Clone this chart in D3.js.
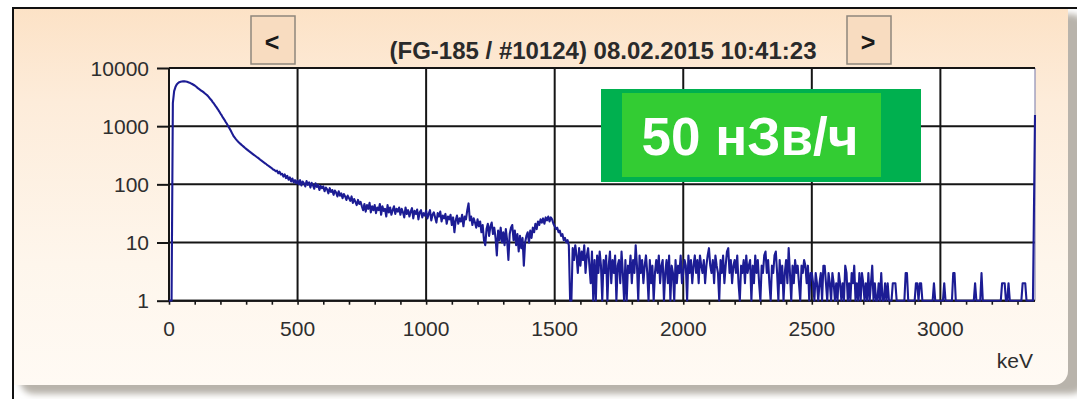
<!DOCTYPE html>
<html>
<head>
<meta charset="utf-8">
<script src="https://cdn.jsdelivr.net/npm/d3@7"></script>
<style>
  html, body { margin: 0; padding: 0; background: #fff; overflow: hidden; }
  svg { display: block; }
</style>
</head>
<body>
<svg id="chart" width="1077" height="399"></svg>
<script>
// Gamma spectrum: counts per 5 keV bin, starting at 0 keV (one row = 100 keV)
const binWidthKeV = 5;
const counts = [
  0, 0, 0, 2500, 4000, 4700, 5200, 5500, 5700, 5800, 5850, 5900, 5900, 5850, 5800, 5700, 5600, 5450, 5300, 5150,
  5000, 4800, 4600, 4400, 4250, 4100, 3950, 3800, 3650, 3500, 3350, 3150, 2950, 2800, 2600, 2430, 2250, 2100, 1950, 1800,
  1650, 1530, 1400, 1300, 1190, 1100, 1010, 920, 840, 760, 690, 640, 600, 565, 535, 510, 487, 465, 445, 425,
  408, 392, 376, 362, 348, 335, 322, 310, 298, 287, 276, 265, 255, 245, 236, 228, 219, 211, 203, 196,
  189, 180, 176, 168, 172, 155, 165, 148, 152, 136, 148, 128, 140, 120, 132, 112, 126, 108, 118, 104,
  116, 100, 118, 96, 112, 104, 92, 114, 98, 108, 88, 106, 96, 84, 104, 90, 98, 80, 94, 86,
  92, 76, 88, 82, 70, 86, 74, 80, 66, 78, 72, 62, 76, 64, 70, 58, 68, 62, 54, 64,
  58, 52, 62, 48, 56, 50, 44, 54, 46, 50, 42, 36, 46, 34, 44, 38, 48, 33, 42, 36,
  44, 32, 40, 36, 46, 30, 42, 35, 38, 28, 44, 33, 40, 30, 36, 42, 31, 38, 34, 40,
  30, 38, 33, 27, 40, 31, 36, 28, 34, 39, 26, 35, 31, 37, 25, 33, 36, 27, 32, 29,
  35, 26, 31, 36, 24, 30, 33, 27, 22, 32, 28, 34, 23, 29, 26, 31, 21, 28, 25, 30,
  20, 27, 15, 24, 29, 21, 26, 23, 30, 19, 28, 25, 36, 47, 24, 28, 20, 26, 22, 18,
  25, 19, 23, 15, 20, 11, 9, 17, 21, 13, 19, 22, 14, 18, 12, 6, 16, 11, 18, 10,
  15, 9, 17, 11, 5, 14, 18, 20, 11, 16, 9, 14, 7, 13, 8, 12, 4, 10, 13, 15,
  10, 16, 12, 18, 15, 21, 17, 23, 20, 25, 22, 26, 21, 27, 24, 28, 23, 27, 25, 21,
  19, 17, 18, 15, 16, 13, 14, 11, 12, 10, 11, 9, 1, 0, 8, 5, 9, 6, 3, 8,
  4, 7, 5, 9, 3, 6, 8, 4, 2, 7, 0, 5, 0, 6, 3, 7, 4, 0, 5, 3,
  6, 0, 4, 7, 2, 5, 3, 6, 0, 4, 5, 2, 7, 3, 0, 5, 0, 4, 3, 6,
  2, 5, 3, 9, 4, 0, 6, 3, 5, 2, 4, 6, 3, 0, 5, 2, 4, 0, 3, 5,
  3, 6, 2, 4, 5, 0, 3, 5, 2, 6, 0, 4, 3, 0, 5, 2, 4, 3, 6, 2,
  3, 5, 4, 0, 6, 3, 5, 2, 4, 6, 3, 5, 2, 6, 4, 3, 5, 2, 4, 6,
  8, 4, 3, 5, 2, 6, 4, 3, 0, 5, 3, 6, 2, 4, 7, 8, 3, 5, 2, 4,
  5, 3, 6, 2, 0, 4, 3, 5, 2, 6, 3, 4, 5, 0, 4, 2, 6, 3, 5, 2,
  0, 4, 3, 6, 7, 3, 5, 2, 0, 4, 3, 6, 7, 3, 0, 5, 2, 4, 0, 3,
  5, 2, 8, 3, 0, 4, 2, 5, 3, 4, 2, 0, 4, 3, 5, 4, 2, 4, 0, 3,
  3, 2, 0, 3, 2, 0, 2, 3, 0, 4, 4, 2, 0, 3, 2, 0, 3, 2, 0, 2,
  0, 3, 2, 0, 2, 0, 4, 3, 0, 2, 0, 3, 2, 4, 0, 2, 0, 3, 0, 3,
  2, 0, 2, 0, 3, 0, 2, 4, 0, 2, 0, 0, 2, 0, 3, 0, 0, 2, 0, 2,
  0, 0, 0, 2, 2, 2, 0, 0, 0, 0, 0, 0, 0, 3, 3, 0, 0, 0, 0, 0,
  0, 2, 2, 0, 2, 2, 0, 0, 0, 0, 0, 0, 0, 0, 0, 2, 0, 0, 0, 0,
  0, 0, 0, 2, 0, 0, 0, 0, 0, 0, 3, 3, 0, 0, 0, 0, 0, 0, 0, 0,
  0, 0, 0, 0, 0, 0, 0, 2, 0, 0, 0, 0, 3, 0, 0, 0, 0, 0, 0, 0,
  0, 0, 0, 0, 0, 0, 0, 0, 2, 2, 2, 0, 0, 2, 0, 0, 0, 0, 0, 0,
  0, 0, 0, 0, 2, 2, 2, 0, 0, 0, 0, 0, 0
];
// last (overflow) channel at the top of the energy range
const overflowEnergy = 3368;
const overflowCount = 1550;

const xMajorTicks = [0, 500, 1000, 1500, 2000, 2500, 3000];
const xMinorTicks = [0, 100, 200, 300, 400, 500, 600, 700, 800, 900, 1000, 1100,
  1200, 1300, 1400, 1500, 1600, 1700, 1800, 1900, 2000, 2100, 2200, 2300,
  2400, 2500, 2600, 2700, 2800, 2900, 3000, 3100, 3200, 3300];
const yTicks = [1, 10, 100, 1000, 10000];

const titleText = "(FG-185 / #10124) 08.02.2015 10:41:23";
const doseText = "50 нЗв/ч";
const unitText = "keV";
const prevLabel = "<";
const nextLabel = ">";

// ---- layout ----
const W = 1077, H = 399;
const plot = { left: 169, right: 1035, top: 68, bottom: 300.7 };
const FONT = "'Liberation Sans', Arial, sans-serif";

const svg = d3.select("#chart");
const defs = svg.append("defs");

const pg = defs.append("linearGradient").attr("id", "panelGrad")
  .attr("x1", 0).attr("y1", 0).attr("x2", 0).attr("y2", 1);
pg.append("stop").attr("offset", "0%").attr("stop-color", "#fcdfc0");
pg.append("stop").attr("offset", "30%").attr("stop-color", "#fdecda");
pg.append("stop").attr("offset", "70%").attr("stop-color", "#fef6ec");
pg.append("stop").attr("offset", "100%").attr("stop-color", "#fffaf4");

defs.append("filter").attr("id", "soft")
  .attr("x", "-5%").attr("y", "-5%").attr("width", "110%").attr("height", "110%")
  .append("feGaussianBlur").attr("stdDeviation", 3);

defs.append("clipPath").attr("id", "plotClip")
  .append("rect")
  .attr("x", plot.left).attr("y", plot.top - 1)
  .attr("width", plot.right - plot.left + 2).attr("height", plot.bottom - plot.top + 2);

// background panel with soft shadow
svg.append("rect").attr("width", W).attr("height", H).attr("fill", "#ffffff");
svg.append("rect")
  .attr("x", 20).attr("y", 14).attr("width", 1065).attr("height", 380).attr("rx", 14)
  .attr("fill", "#b8b3ab").attr("filter", "url(#soft)");
svg.append("rect")
  .attr("x", -20).attr("y", -20).attr("width", 1088).attr("height", 405).attr("rx", 14)
  .attr("fill", "url(#panelGrad)");
svg.append("rect").attr("x", 0).attr("y", 0).attr("width", 12).attr("height", H).attr("fill", "#fff");
svg.append("rect").attr("x", 0).attr("y", 0).attr("width", W).attr("height", 7).attr("fill", "#fff");
svg.append("line").attr("x1", 12).attr("x2", W).attr("y1", 8).attr("y2", 8)
  .attr("stroke", "#111").attr("stroke-width", 2);
svg.append("line").attr("x1", 13).attr("x2", 13).attr("y1", 7).attr("y2", H)
  .attr("stroke", "#111").attr("stroke-width", 2);

// ---- scales ----
const x = d3.scaleLinear().domain([0, overflowEnergy]).range([plot.left, plot.right]);
const y = d3.scaleLog().domain([1, 10000]).range([plot.bottom, plot.top]);

// plot area
svg.append("rect")
  .attr("x", plot.left).attr("y", plot.top)
  .attr("width", plot.right - plot.left).attr("height", plot.bottom - plot.top)
  .attr("fill", "#ffffff");

const grid = svg.append("g").attr("stroke", "#151515").attr("stroke-width", 2);
grid.selectAll("line.v").data(xMajorTicks).join("line").attr("class", "v")
  .attr("x1", d => x(d)).attr("x2", d => x(d))
  .attr("y1", plot.top).attr("y2", plot.bottom);
grid.selectAll("line.h").data(yTicks).join("line").attr("class", "h")
  .attr("x1", plot.left).attr("x2", plot.right)
  .attr("y1", d => y(d)).attr("y2", d => y(d));
svg.append("line")
  .attr("x1", plot.right).attr("x2", plot.right)
  .attr("y1", plot.top).attr("y2", plot.bottom)
  .attr("stroke", "#8c8cb4").attr("stroke-width", 1.2);

// x axis: small ticks every 100 keV, labels every 500 keV
const xAxis = d3.axisBottom(x).tickValues(xMinorTicks).tickSize(4).tickFormat("");
const gx = svg.append("g").attr("transform", `translate(0,${plot.bottom})`).call(xAxis);
gx.select(".domain").remove();
gx.selectAll(".tick line").attr("stroke", "#151515").attr("stroke-width", 1.6);

svg.append("g").selectAll("text").data(xMajorTicks).join("text")
  .attr("x", d => x(d)).attr("y", 336)
  .attr("text-anchor", "middle")
  .attr("font-family", FONT).attr("font-size", 21).attr("fill", "#2e2e2e")
  .text(d => d);

// y axis: decade ticks and labels
const yAxis = d3.axisLeft(y).tickValues(yTicks).tickSize(12).tickFormat("");
const gy = svg.append("g").attr("transform", `translate(${plot.left},0)`).call(yAxis);
gy.select(".domain").remove();
gy.selectAll(".tick line").attr("stroke", "#151515").attr("stroke-width", 2);

svg.append("g").selectAll("text").data(yTicks).join("text")
  .attr("x", 149).attr("y", d => y(d) + 7.5)
  .attr("text-anchor", "end")
  .attr("font-family", FONT).attr("font-size", 21).attr("fill", "#2e2e2e")
  .text(d => d);

// plot frame (left, top, bottom)
const frame = svg.append("g").attr("stroke", "#151515").attr("stroke-width", 2);
frame.append("line").attr("x1", plot.left).attr("x2", plot.left)
  .attr("y1", plot.top).attr("y2", plot.bottom);
frame.append("line").attr("x1", plot.left).attr("x2", plot.right)
  .attr("y1", plot.top).attr("y2", plot.top);
frame.append("line").attr("x1", plot.left).attr("x2", plot.right)
  .attr("y1", plot.bottom).attr("y2", plot.bottom);

// spectrum
const points = counts.map((c, i) => ({ e: i * binWidthKeV, c }));
points.push({ e: overflowEnergy, c: overflowCount });
const line = d3.line()
  .x(d => x(d.e))
  .y(d => y(Math.max(d.c, 1)));
svg.append("path")
  .datum(points)
  .attr("clip-path", "url(#plotClip)")
  .attr("d", line)
  .attr("fill", "none")
  .attr("stroke", "#1c1c94")
  .attr("stroke-width", 2.1)
  .attr("stroke-linejoin", "round");

// title and navigation buttons
svg.append("text")
  .attr("x", (plot.left + plot.right) / 2 + 1).attr("y", 59)
  .attr("text-anchor", "middle")
  .attr("font-family", FONT).attr("font-size", 24).attr("font-weight", "bold")
  .attr("fill", "#2a2a2a")
  .text(titleText);

const buttons = [
  { label: prevLabel, x0: 251, x1: 295 },
  { label: nextLabel, x0: 847, x1: 891 }
];
const btn = svg.append("g").selectAll("g").data(buttons).join("g");
btn.append("rect")
  .attr("x", d => d.x0).attr("y", 16)
  .attr("width", d => d.x1 - d.x0).attr("height", 48)
  .attr("fill", "#f8dcc0").attr("stroke", "#8f877c").attr("stroke-width", 1.5);
btn.append("text")
  .attr("x", d => (d.x0 + d.x1) / 2 - 1).attr("y", 51)
  .attr("text-anchor", "middle")
  .attr("font-family", FONT).attr("font-size", 25).attr("font-weight", "bold")
  .attr("fill", "#1a1a1a")
  .text(d => d.label);

// dose rate badge
svg.append("rect").attr("x", 601).attr("y", 89).attr("width", 320).attr("height", 93)
  .attr("fill", "#00b04f");
svg.append("rect").attr("x", 622).attr("y", 93).attr("width", 259).attr("height", 84)
  .attr("fill", "#33cc33");
svg.append("text")
  .attr("x", 750).attr("y", 155)
  .attr("text-anchor", "middle")
  .attr("font-family", FONT).attr("font-size", 53).attr("font-weight", "bold")
  .attr("fill", "#ffffff")
  .text(doseText);

// energy unit
svg.append("text")
  .attr("x", 1033).attr("y", 368)
  .attr("text-anchor", "end")
  .attr("font-family", FONT).attr("font-size", 21).attr("fill", "#2e2e2e")
  .text(unitText);
</script>
</body>
</html>
